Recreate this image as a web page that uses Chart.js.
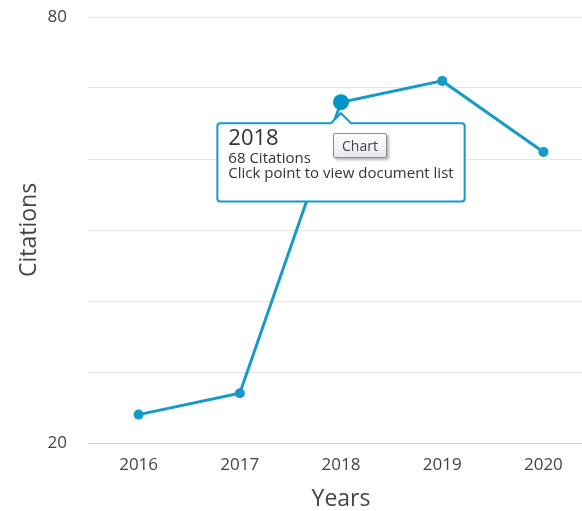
<!DOCTYPE html>
<html>
<head>
<meta charset="utf-8">
<script src="https://cdn.jsdelivr.net/npm/chart.js@4"></script>
<style>
  html, body { margin: 0; padding: 0; overflow: hidden; background: #fff; }
  #wrap { position: relative; width: 602px; height: 511px; }
  #citationsChart { display: block; }
  #tip {
    position: absolute; left: 333px; top: 133px; width: 52px; height: 23px;
    border: 1px solid #8a8a8a; border-radius: 2px;
    background: linear-gradient(#ffffff, #e6e8ee);
    box-shadow: 2px 2px 3px rgba(0,0,0,0.3);
    font: 14px "Open Sans", sans-serif; color: #444;
    text-align: center; line-height: 23px;
  }
</style>
</head>
<body>
<div id="wrap">
  <canvas id="citationsChart" width="602" height="511"></canvas>
  <div id="tip">Chart</div>
</div>
<script>
const years = ["2016", "2017", "2018", "2019", "2020"];
const citations = [24, 27, 68, 71, 61];
const yTicksShown = [20, 80];
const activeIndex = 2;

document.addEventListener("DOMContentLoaded", () => {
  const ctx = document.getElementById("citationsChart").getContext("2d");
  const lineColor = "#169ac7";

  const chart = new Chart(ctx, {
    type: "line",
    data: {
      labels: years,
      datasets: [
        {
          label: "Citations",
          data: citations,
          borderColor: lineColor,
          backgroundColor: lineColor,
          borderWidth: 3,
          pointRadius: 5,
          pointHoverRadius: 8,
          pointBorderWidth: 0,
          pointHoverBorderWidth: 0,
          tension: 0,
        },
      ],
    },
    options: {
      responsive: false,
      animation: false,
      events: [],
      layout: { padding: { top: 0, left: 16, right: 0, bottom: 0 } },
      plugins: {
        legend: { display: false },
        tooltip: {
          enabled: true,
          backgroundColor: "#ffffff",
          borderColor: lineColor,
          borderWidth: 2,
          cornerRadius: 3,
          caretSize: 10,
          caretPadding: 11,
          xAlign: "center",
          yAlign: "top",
          displayColors: false,
          titleColor: "#333",
          bodyColor: "#333",
          titleFont: { family: "Open Sans", size: 22, weight: "normal", lineHeight: 1.1 },
          bodyFont: { family: "Open Sans", size: 15, lineHeight: 1.0 },
          titleMarginBottom: 1,
          bodySpacing: 0,
          padding: { top: 3, left: 11, right: 11, bottom: 20 },
          callbacks: {
            title: (items) => years[items[0].dataIndex],
            label: (item) => [
              citations[item.dataIndex] + " Citations",
              "Click point to view document list",
            ],
          },
        },
      },
      scales: {
        x: {
          offset: true,
          grid: { display: false, drawTicks: false },
          border: { display: true, color: "#ccd6eb", width: 1 },
          afterFit: (scale) => {
            scale.height = 68;
            scale.paddingLeft = 0;
            scale.paddingRight = 0;
          },
          ticks: {
            color: "#444",
            padding: 12,
            font: { family: "Open Sans", size: 17 },
          },
          title: {
            display: true,
            text: "Years",
            color: "#444",
            font: { family: "Open Sans", size: 23 },
            padding: { top: 0, bottom: -2 },
          },
        },
        y: {
          min: 20,
          max: 80,
          grid: { color: "#e6e6e6", drawTicks: false },
          border: { display: false },
          afterFit: (scale) => {
            scale.width = 72;
            scale.paddingTop = 17;
            scale.paddingBottom = 0;
            scale.paddingLeft = 0;
            scale.paddingRight = 0;
          },
          ticks: {
            stepSize: 10,
            padding: 21,
            color: "#444",
            font: { family: "Open Sans", size: 17 },
            callback: (v) => (yTicksShown.includes(v) ? v : ""),
          },
          title: {
            display: true,
            text: "Citations",
            color: "#444",
            font: { family: "Open Sans", size: 23 },
            padding: { top: 0, bottom: 0 },
          },
        },
      },
    },
  });

  // show hovered point + tooltip for 2018
  const active = [{ datasetIndex: 0, index: activeIndex }];
  chart.setActiveElements(active);
  const pt = chart.getDatasetMeta(0).data[activeIndex];
  chart.tooltip.setActiveElements(active, { x: pt.x, y: pt.y });
  chart.update("none");
});
</script>
</body>
</html>
